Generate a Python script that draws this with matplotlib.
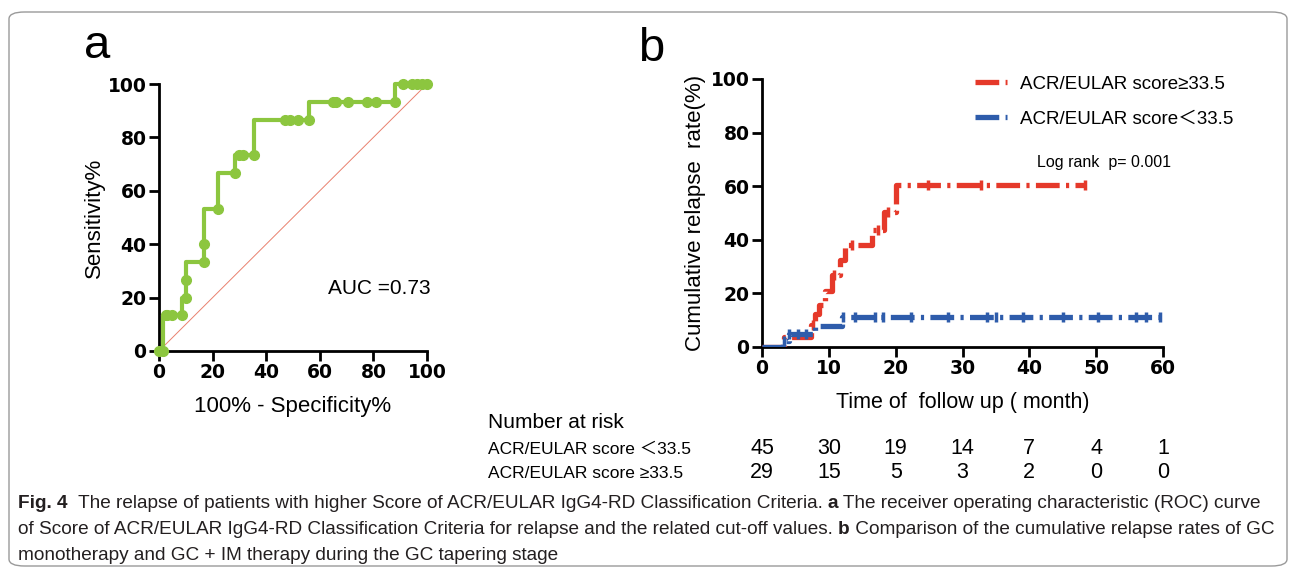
import numpy as np
import matplotlib
matplotlib.use("Agg")
import matplotlib.pyplot as plt
from matplotlib import font_manager
from matplotlib.patches import FancyBboxPatch
import matplotlib.transforms as mtransforms

W, H = 1296, 574

# ROC curve (panel a)
roc_fpr = [0, 1.6, 2.5, 3.1, 4.7, 8.5, 10, 10, 16.8, 16.8, 21.9, 28.5, 29.8, 31.5, 35.5,
           47, 49, 52, 56, 65, 66, 70.7, 77.6, 80.8, 88, 91, 94.4, 96.3, 98, 100]
roc_tpr = [0, 0, 13.3, 13.3, 13.3, 13.3, 20, 26.7, 33.3, 40, 53.3, 66.7, 73.3, 73.3, 73.3,
           86.7, 86.7, 86.7, 86.7, 93.3, 93.3, 93.3, 93.3, 93.3, 93.3, 100, 100, 100, 100, 100]
auc_text = "AUC =0.73"

# cumulative relapse (panel b)
hi_t = [0, 3.3, 7.4, 7.9, 8.5, 9.4, 10.4, 11.6, 12.4, 16.4, 18.3, 20.1]
hi_y = [0, 3.7, 8.3, 12.4, 15.6, 21.0, 26.8, 32.4, 37.9, 43.6, 50.4, 60.6]
hi_end = 48.4
hi_cens = [7.6, 10.8, 13.4, 17.3, 18.8, 24.8, 32.8, 48.4]

lo_t = [0, 3.2, 4.0, 8.0, 12.0]
lo_y = [0, 2.3, 5.0, 7.8, 11.3]
lo_end = 59.5
lo_cens = [3.3, 4.1, 5.4, 6.6, 12.1, 13.9, 16.9, 18.1, 22.3, 27.8, 33.6, 35.0, 39.0,
           45.0, 50.3, 56.0, 57.5, 59.5]

lab_hi = "ACR/EULAR score≥33.5"
lab_lo = "ACR/EULAR score＜33.5"
risk_times = [0, 10, 20, 30, 40, 50, 60]
risk_lo = [45, 30, 19, 14, 7, 4, 1]
risk_hi = [29, 15, 5, 3, 2, 0, 0]

green = "#8CC63F"
red = "#E5392A"
blue = "#2E5CAB"

sans = "Liberation Sans"
mixed = [sans, "Noto Sans CJK SC", "DejaVu Sans"]

fig = plt.figure(figsize=(W / 100, H / 100), dpi=100)

def px(x, y):
    return x / W, 1 - y / H

# outer rounded frame
frame = FancyBboxPatch(px(9, 566), 1278 / W, 554 / H,
                       boxstyle="round,pad=0,rounding_size=0.012",
                       transform=fig.transFigure, fill=False,
                       edgecolor="#9a9a9a", linewidth=1.0)
fig.patches.append(frame)

def style_axes(ax):
    for s in ["top", "right"]:
        ax.spines[s].set_visible(False)
    for s in ["left", "bottom"]:
        ax.spines[s].set_linewidth(2.0)
    ax.tick_params(width=2.0, length=7, direction="out", labelsize=13.5, pad=2)
    for lab in ax.get_xticklabels() + ax.get_yticklabels():
        lab.set_fontweight("bold")
        lab.set_fontfamily("DejaVu Sans")

# ---------- panel a ----------
axa = fig.add_axes([159 / W, 1 - 351 / H, 268 / W, 267 / H])
axa.plot([0, 100], [0, 100], color="#E9806E", lw=0.7, zorder=1)
axa.plot(roc_fpr, roc_tpr, drawstyle="steps-pre", color=green, lw=3, zorder=3, clip_on=False)
axa.plot(roc_fpr, roc_tpr, "o", color=green, ms=7, zorder=4, clip_on=False)
axa.set_xlim(0, 100)
axa.set_ylim(0, 100)
axa.set_xticks(range(0, 101, 20))
axa.set_yticks(range(0, 101, 20))
style_axes(axa)
axa.set_xlabel("100% - Specificity%", fontsize=16, family=sans, labelpad=10)
axa.set_ylabel("Sensitivity%", fontsize=16, family=sans, labelpad=2)
axa.text(101.5, 23.5, auc_text, fontsize=15, family=sans, ha="right", va="center")
fig.text(*px(84, 46), "a", fontsize=34, family=sans, va="center", ha="left")

# ---------- panel b ----------
axb = fig.add_axes([762 / W, 1 - 347 / H, 401 / W, 268 / H])
ls = (0, (4.5, 1.2, 0.6, 1.2))
axb.step(hi_t + [hi_end], hi_y + [hi_y[-1]], where="post", color=red, lw=3.8,
         linestyle=ls, label=lab_hi, zorder=3)
axb.plot(hi_cens, [hi_y[np.searchsorted(hi_t, c, side="right") - 1] for c in hi_cens],
         "|", color=red, ms=7, mew=2.5, zorder=3)
axb.step(lo_t + [lo_end], lo_y + [lo_y[-1]], where="post", color=blue, lw=3.8,
         linestyle=ls, label=lab_lo, zorder=4)
axb.plot(lo_cens, [lo_y[np.searchsorted(lo_t, c, side="right") - 1] for c in lo_cens],
         "|", color=blue, ms=7, mew=2.5, zorder=4)
axb.set_xlim(0, 60)
axb.set_ylim(0, 100)
axb.set_xticks(risk_times)
axb.set_yticks(range(0, 101, 20))
style_axes(axb)
axb.set_xlabel("Time of  follow up ( month)", fontsize=15.5, family=sans, labelpad=10)
axb.set_ylabel("Cumulative relapse  rate(%)", fontsize=16, family=sans, labelpad=3)
leg = axb.legend(loc="upper left", bbox_to_anchor=px(958, 59), bbox_transform=fig.transFigure,
                 frameon=False, handlelength=1.7, handletextpad=0.7, labelspacing=0.95,
                 prop=font_manager.FontProperties(family=mixed, size=13.5))
axb.text(*px(1037, 162), "Log rank  p= 0.001", transform=fig.transFigure,
         fontsize=11.5, family=sans, va="center")
fig.text(*px(638, 49), "b", fontsize=34, family=sans, va="center", ha="left")

# number at risk table
blend = mtransforms.blended_transform_factory(axb.transData, fig.transFigure)
fig.text(*px(488, 423), "Number at risk", fontsize=15, family=sans, va="center")
fig.text(*px(488, 449), "ACR/EULAR score ＜33.5", fontsize=12.5, family=mixed, va="center")
fig.text(*px(488, 473), "ACR/EULAR score ≥33.5", fontsize=12.5, family=mixed, va="center")
for t, a, b in zip(risk_times, risk_lo, risk_hi):
    fig.text(t, 1 - 449 / H, str(a), transform=blend, fontsize=15.5, family=sans,
             ha="center", va="center")
    fig.text(t, 1 - 473 / H, str(b), transform=blend, fontsize=15.5, family=sans,
             ha="center", va="center")

# caption
cap = [
    [("Fig. 4", True), ("  The relapse of patients with higher Score of ACR/EULAR IgG4-RD Classification Criteria. ", False),
     ("a", True), (" The receiver operating characteristic (ROC) curve", False)],
    [("of Score of ACR/EULAR IgG4-RD Classification Criteria for relapse and the related cut-off values. ", False),
     ("b", True), (" Comparison of the cumulative relapse rates of GC", False)],
    [("monotherapy and GC + IM therapy during the GC tapering stage", False)],
]
renderer = fig.canvas.get_renderer()
for i, line in enumerate(cap):
    x = 18
    y = 503 + i * 26
    for s, bold in line:
        t = fig.text(*px(x, y), s, fontsize=13.7, family=sans, color="#231F20",
                     fontweight="bold" if bold else "normal", va="center", ha="left")
        bb = t.get_window_extent(renderer=renderer)
        x += bb.width

fig.savefig("out.png", dpi=100)
